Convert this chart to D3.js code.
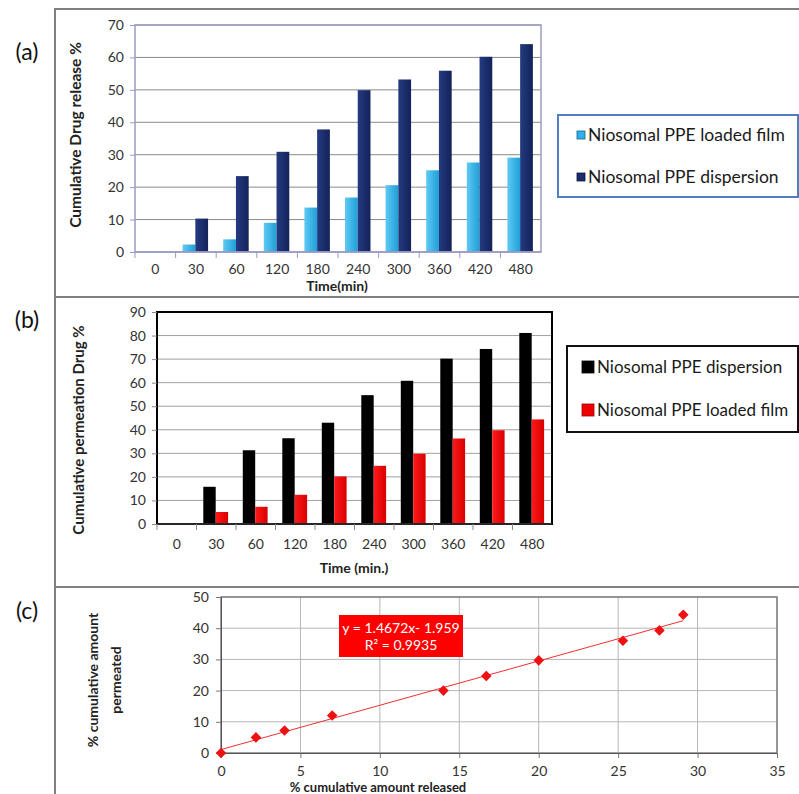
<!DOCTYPE html>
<html>
<head>
<meta charset="utf-8">
<script src="https://cdn.jsdelivr.net/npm/d3@7"></script>
<style>
  body { margin: 0; background: #fff; }
  svg { display: block; font-family: Lato, "Open Sans", sans-serif; }
</style>
</head>
<body>
<script>
// values
const timeLabels = ["0", "30", "60", "120", "180", "240", "300", "360", "420", "480"];

// (a) cumulative drug release %
const releaseFilm = [0, 2.3, 3.9, 9.0, 13.7, 16.8, 20.6, 25.2, 27.6, 29.1];
const releaseDispersion = [0, 10.3, 23.4, 30.9, 37.8, 49.9, 53.2, 55.9, 60.2, 64.1];

// (b) cumulative permeation drug %
const permDispersion = [0.3, 15.8, 31.3, 36.4, 43.0, 54.7, 60.8, 70.2, 74.3, 81.1];
const permFilm = [0, 5.1, 7.3, 12.4, 20.2, 24.7, 29.8, 36.3, 39.8, 44.4];

// (c) correlation
const releasedPct = [0, 2.2, 4.0, 7.0, 14.0, 16.7, 20.0, 25.3, 27.6, 29.1];
const permeatedPct = [0, 5.0, 7.2, 12.0, 20.0, 24.7, 29.7, 36.0, 39.3, 44.3];
// equation as printed on the chart
const fitSlope = 1.4672, fitIntercept = -1.959, fitR2 = 0.9935;

const W = 799, H = 794;
const svg = d3.select("body").append("svg").attr("width", W).attr("height", H);
svg.append("rect").attr("width", W).attr("height", H).attr("fill", "#fff");

const defs = svg.append("defs");
function grad(id, c1, c2) {
  const g = defs.append("linearGradient").attr("id", id)
    .attr("x1", 0).attr("x2", 1).attr("y1", 0).attr("y2", 0);
  g.append("stop").attr("offset", "0%").attr("stop-color", c1);
  g.append("stop").attr("offset", "100%").attr("stop-color", c2);
}
grad("gLight", "#5fcaf3", "#1e9fd8");
grad("gDark", "#243b80", "#13225a");
grad("gRed", "#ff1a1a", "#d80000");

// outer frame
const frame = svg.append("g").attr("stroke", "#808080").attr("stroke-width", 2);
frame.append("line").attr("x1", 55).attr("x2", 55).attr("y1", 9).attr("y2", H);
[9, 297, 587].forEach(y => frame.append("line").attr("x1", 54).attr("x2", W).attr("y1", y).attr("y2", y));

// panel tags
[["(a)", 52], ["(b)", 320], ["(c)", 611]].forEach(([t, y]) =>
  svg.append("text").attr("x", 27).attr("y", y).attr("dy", "0.35em")
    .attr("text-anchor", "middle").attr("font-size", 23).attr("fill", "#111").text(t));

// grouped bar panel
function barPanel(o) {
  const g = svg.append("g");
  const x = d3.scaleBand().domain(timeLabels).range([o.left, o.right]);
  const x1 = d3.scaleBand().domain([0, 1])
    .range([x.bandwidth() * 0.172, x.bandwidth() * 0.8]);
  const y = d3.scaleLinear().domain([0, o.max]).range([o.bottom, o.top]);

  // grid
  g.append("g").selectAll("line").data(y.ticks(o.max / 10).slice(1))
    .join("line").attr("x1", o.left).attr("x2", o.right)
    .attr("y1", d => y(d)).attr("y2", d => y(d))
    .attr("stroke", o.grid).attr("stroke-width", 1);

  // bars
  o.series.forEach((s, i) => {
    g.append("g").selectAll("rect").data(s.values).join("rect")
      .attr("x", (d, j) => x(timeLabels[j]) + x1(i))
      .attr("width", x1.bandwidth())
      .attr("y", d => y(d))
      .attr("height", d => o.bottom - y(d))
      .attr("fill", s.fill);
  });

  // plot border
  g.append("rect").attr("x", o.left).attr("y", o.top)
    .attr("width", o.right - o.left).attr("height", o.bottom - o.top)
    .attr("fill", "none").attr("stroke", o.border).attr("stroke-width", o.borderW);

  // y axis
  const ya = g.append("g").attr("transform", `translate(${o.left},0)`)
    .call(d3.axisLeft(y).ticks(o.max / 10).tickSize(5).tickPadding(6));
  ya.select(".domain").remove();
  ya.selectAll("line").attr("stroke", o.tickC);
  ya.selectAll("text").attr("font-size", 14).attr("fill", "#333").attr("font-family", "Lato");

  // x axis: ticks at category boundaries
  const xa = g.append("g").attr("transform", `translate(0,${o.bottom})`);
  xa.append("line").attr("x1", o.left).attr("x2", o.right).attr("stroke", o.axisC).attr("stroke-width", o.axisW);
  xa.selectAll("line.tk").data(timeLabels).join("line").attr("class", "tk")
    .attr("x1", d => x(d)).attr("x2", d => x(d)).attr("y1", 0).attr("y2", 6)
    .attr("stroke", o.tickC);
  xa.selectAll("text").data(timeLabels).join("text")
    .attr("x", d => x(d) + x.bandwidth() / 2).attr("y", o.labelDy)
    .attr("text-anchor", "middle").attr("font-size", 14).attr("fill", "#333").text(d => d);

  // titles
  g.append("text").attr("x", o.xTitle[0]).attr("y", o.xTitle[1]).attr("dy", "0.35em")
    .attr("text-anchor", "middle").attr("font-weight", "bold").attr("font-size", 14)
    .attr("fill", "#222").text(o.xTitleText);
  g.append("text").attr("transform", `translate(${o.yTitle[0]},${o.yTitle[1]}) rotate(-90)`)
    .attr("dy", "0.35em").attr("text-anchor", "middle").attr("font-weight", "bold")
    .attr("font-size", o.yTitleSize).attr("fill", "#222").text(o.yTitleText);

  // legend
  const L = o.legend;
  const lg = g.append("g");
  lg.append("rect").attr("x", L.x).attr("y", L.y).attr("width", L.w).attr("height", L.h)
    .attr("fill", "#fff").attr("stroke", L.stroke).attr("stroke-width", 2);
  L.items.forEach((it, i) => {
    const cy = L.y + L.rowY[i];
    lg.append("rect").attr("x", L.sx).attr("y", cy - L.sq / 2).attr("width", L.sq).attr("height", L.sq)
      .attr("fill", it.fill).attr("stroke", it.edge).attr("stroke-width", 0.8);
    lg.append("text").attr("x", L.tx).attr("y", cy).attr("dy", "0.35em")
      .attr("font-size", L.fs).attr("fill", "#1a1a1a").text(it.name);
  });
}

barPanel({
  left: 135, right: 541, top: 25, bottom: 252, max: 70,
  grid: "#8a8a8a", border: "#9b9bc4", borderW: 1.5, tickC: "#9b9bc4",
  axisC: "#9b9bc4", axisW: 1.5, labelDy: 22,
  series: [
    { values: releaseFilm, fill: "url(#gLight)" },
    { values: releaseDispersion, fill: "url(#gDark)" }
  ],
  xTitleText: "Time(min)", xTitle: [337, 286],
  yTitleText: "Cumulative Drug release %", yTitle: [76, 135], yTitleSize: 15.5,
  legend: {
    x: 558, y: 115, w: 240, h: 82, stroke: "#4f7fc0", sq: 8, sx: 577, tx: 588, fs: 17.5,
    rowY: [20, 62],
    items: [
      { name: "Niosomal PPE loaded film", fill: "#2eb0ea", edge: "#1a5f8a" },
      { name: "Niosomal PPE dispersion", fill: "#1b2c6c", edge: "#0c1640" }
    ]
  }
});

barPanel({
  left: 157, right: 552, top: 312, bottom: 524, max: 90,
  grid: "#a0a0a0", border: "#000", borderW: 2, tickC: "#888",
  axisC: "#333", axisW: 1.5, labelDy: 25,
  series: [
    { values: permDispersion, fill: "#000" },
    { values: permFilm, fill: "url(#gRed)" }
  ],
  xTitleText: "Time (min.)", xTitle: [354, 568],
  yTitleText: "Cumulative permeation Drug %", yTitle: [79, 430], yTitleSize: 15,
  legend: {
    x: 567, y: 346, w: 231, h: 86, stroke: "#111", sq: 12, sx: 582, tx: 597, fs: 17,
    rowY: [21, 64],
    items: [
      { name: "Niosomal PPE dispersion", fill: "#000", edge: "#000" },
      { name: "Niosomal PPE loaded film", fill: "#ee0000", edge: "#900" }
    ]
  }
});

// (c) scatter with trend line
(function () {
  const left = 221, right = 777, top = 597, bottom = 753;
  const g = svg.append("g");
  const x = d3.scaleLinear().domain([0, 35]).range([left, right]);
  const y = d3.scaleLinear().domain([0, 50]).range([bottom, top]);

  g.append("g").selectAll("line").data(x.ticks(7).slice(1))
    .join("line").attr("x1", d => x(d)).attr("x2", d => x(d)).attr("y1", top).attr("y2", bottom)
    .attr("stroke", "#b5b5b5");
  g.append("g").selectAll("line").data(y.ticks(5).slice(1))
    .join("line").attr("x1", left).attr("x2", right).attr("y1", d => y(d)).attr("y2", d => y(d))
    .attr("stroke", "#b5b5b5");
  g.append("rect").attr("x", left).attr("y", top).attr("width", right - left).attr("height", bottom - top)
    .attr("fill", "none").attr("stroke", "#7f7f7f").attr("stroke-width", 1.5);

  const xa = g.append("g").attr("transform", `translate(0,${bottom})`)
    .call(d3.axisBottom(x).ticks(7).tickSize(5).tickPadding(8));
  xa.select(".domain").attr("stroke", "#555");
  xa.selectAll("line").attr("stroke", "#777");
  xa.selectAll("text").attr("font-size", 14).attr("fill", "#333").attr("font-family", "Lato");

  const ya = g.append("g").attr("transform", `translate(${left},0)`)
    .call(d3.axisLeft(y).ticks(5).tickSize(5).tickPadding(7));
  ya.select(".domain").attr("stroke", "#555");
  ya.selectAll("line").attr("stroke", "#777");
  ya.selectAll("text").attr("font-size", 14).attr("fill", "#333").attr("font-family", "Lato");

  // least-squares trend line through the plotted points
  const mx = d3.mean(releasedPct), my = d3.mean(permeatedPct);
  const sxy = d3.sum(releasedPct, (v, i) => (v - mx) * (permeatedPct[i] - my));
  const sxx = d3.sum(releasedPct, v => (v - mx) * (v - mx));
  const b = sxy / sxx, a = my - b * mx;
  const xMin = d3.min(releasedPct), xMax = d3.max(releasedPct);
  g.append("line")
    .attr("x1", x(xMin)).attr("y1", y(a + b * xMin))
    .attr("x2", x(xMax)).attr("y2", y(a + b * xMax))
    .attr("stroke", "#f03030").attr("stroke-width", 1);

  g.append("g").selectAll("path").data(releasedPct).join("path")
    .attr("transform", (d, i) => `translate(${x(d)},${y(permeatedPct[i])}) rotate(45)`)
    .attr("d", d3.symbol(d3.symbolSquare, 56)())
    .attr("fill", "#ee1111");

  // equation label
  const bx = 339, by = 615;
  g.append("rect").attr("x", bx).attr("y", by).attr("width", 124).attr("height", 42).attr("fill", "#ff0000");
  g.append("text").attr("x", bx + 62).attr("y", by + 13).attr("dy", "0.35em").attr("text-anchor", "middle")
    .attr("font-size", 14).attr("fill", "#fff")
    .text(`y = ${fitSlope}x- ${Math.abs(fitIntercept)}`);
  g.append("text").attr("x", bx + 62).attr("y", by + 30).attr("dy", "0.35em").attr("text-anchor", "middle")
    .attr("font-size", 14).attr("fill", "#fff")
    .text(`R² = ${fitR2}`);

  // titles
  g.append("text").attr("x", 378).attr("y", 787).attr("dy", "0.35em").attr("text-anchor", "middle")
    .attr("font-weight", "bold").attr("font-size", 13).attr("fill", "#222")
    .text("% cumulative amount released");
  const yt = g.append("text").attr("transform", "translate(93,680) rotate(-90)")
    .attr("text-anchor", "middle").attr("font-weight", "bold").attr("font-size", 14).attr("fill", "#222");
  yt.append("tspan").attr("x", 0).attr("dy", "0.35em").text("% cumulative amount");
  yt.append("tspan").attr("x", 0).attr("dy", "1.65em").text("permeated");
})();
</script>
</body>
</html>
